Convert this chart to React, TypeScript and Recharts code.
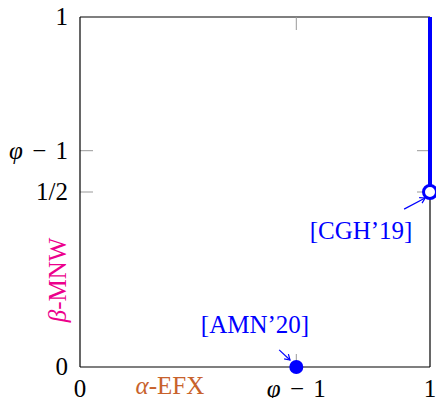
import React from 'react';
import { ComposedChart, XAxis, YAxis, Scatter, ReferenceLine, ReferenceDot } from 'recharts';

const PHI1 = 0.618;
const xTicks = [0, PHI1, 1];
const xTickLabels = ['0', 'φ − 1', '1'];
const yTicks = [0, 0.5, PHI1, 1];
const yTickLabels = ['0', '1/2', 'φ − 1', '1'];
const innerXTicks = [PHI1];
const innerYTicks = [0.5, PHI1];
const cghSegment = [{ x: 1, y: 0.5 }, { x: 1, y: 1 }];
const cghPoint = [{ x: 1, y: 0.5 }];
const amnPoint = [{ x: PHI1, y: 0 }];
const refLabels = [
  { text: '[AMN’20]', x: 0.5, y: 0.12 },
  { text: '[CGH’19]', x: 0.803, y: 0.389 },
];
const refArrows = [
  [{ x: 0.569, y: 0.049 }, { x: 0.6, y: 0.02 }],
  [{ x: 0.926, y: 0.451 }, { x: 0.986, y: 0.483 }],
];
const xAxisTitle = { text: 'α', rest: '-EFX', x: 0.257, y: 0 };
const yAxisTitle = { text: 'β', rest: '-MNW', x: 0, y: 0.249 };

const FONT = '"Liberation Serif", "DejaVu Serif", serif';
const FS = 25;
const TICK_LEN = 13 / 350;
const BLUE = '#0000ff';
const ORANGE = '#c8622c';
const MAGENTA = '#ec008c';

const renderLabel = (s: string) => {
  if (s.startsWith('φ')) {
    return [
      <tspan key="a" fontStyle="italic">φ</tspan>,
      <tspan key="b" dx={3}>{' −'}</tspan>,
      <tspan key="c" dx={3}>{' 1'}</tspan>,
    ];
  }
  return s;
};

const XTick = (p: any) => {
  const i = xTicks.indexOf(p.payload.value);
  return (
    <text x={p.x} y={p.y} dy={22} textAnchor="middle" fontFamily={FONT} fontSize={FS} fill="#000">
      {renderLabel(xTickLabels[i] ?? '')}
    </text>
  );
};

const YTick = (p: any) => {
  const i = yTicks.indexOf(p.payload.value);
  return (
    <text x={p.x} y={p.y} dx={-4} dy={8} textAnchor="end" fontFamily={FONT} fontSize={FS} fill="#000">
      {renderLabel(yTickLabels[i] ?? '')}
    </text>
  );
};

const arrowShape = (p: any) => {
  const { x1, y1, x2, y2 } = p;
  const a = Math.atan2(y2 - y1, x2 - x1);
  const h = 6;
  const s = 0.55;
  return (
    <g>
      <line x1={x1} y1={y1} x2={x2} y2={y2} stroke={BLUE} strokeWidth={1.2} />
      <polyline
        points={`${x2 - h * Math.cos(a - s)},${y2 - h * Math.sin(a - s)} ${x2},${y2} ${x2 - h * Math.cos(a + s)},${y2 - h * Math.sin(a + s)}`}
        fill="none"
        stroke={BLUE}
        strokeWidth={1.2}
      />
    </g>
  );
};

export default function App() {
  return (
    <div style={{ position: 'absolute', left: 0, top: 0, width: 436, height: 398 }}>
      <ComposedChart
        width={436}
        height={398}
        margin={{ top: 17, right: 6, bottom: 0, left: 0 }}
        style={{ fontFamily: FONT }}
      >
        <XAxis
          type="number"
          dataKey="x"
          domain={[0, 1]}
          ticks={xTicks}
          interval={0}
          height={31}
          tickLine={false}
          axisLine={{ stroke: '#000', strokeWidth: 1.2 }}
          tick={<XTick />}
        />
        <YAxis
          type="number"
          dataKey="y"
          domain={[0, 1]}
          ticks={yTicks}
          interval={0}
          width={80}
          tickLine={false}
          axisLine={{ stroke: '#000', strokeWidth: 1.2 }}
          tick={<YTick />}
        />
        <ReferenceLine y={1} stroke="#000" strokeWidth={1.2} ifOverflow="visible" />
        <ReferenceLine x={1} stroke="#000" strokeWidth={1.2} ifOverflow="visible" />
        {innerXTicks.map((t) => (
          <ReferenceLine key={'xb' + t} segment={[{ x: t, y: 0 }, { x: t, y: TICK_LEN }]} stroke="#999" strokeWidth={1} ifOverflow="visible" />
        ))}
        {innerXTicks.map((t) => (
          <ReferenceLine key={'xt' + t} segment={[{ x: t, y: 1 }, { x: t, y: 1 - TICK_LEN }]} stroke="#999" strokeWidth={1} ifOverflow="visible" />
        ))}
        {innerYTicks.map((t) => (
          <ReferenceLine key={'yl' + t} segment={[{ x: 0, y: t }, { x: TICK_LEN, y: t }]} stroke="#999" strokeWidth={1} ifOverflow="visible" />
        ))}
        {innerYTicks.map((t) => (
          <ReferenceLine key={'yr' + t} segment={[{ x: 1, y: t }, { x: 1 - TICK_LEN, y: t }]} stroke="#999" strokeWidth={1} ifOverflow="visible" />
        ))}
        <Scatter
          data={cghSegment}
          line={{ stroke: BLUE, strokeWidth: 4 }}
          lineType="joint"
          shape={() => <g />}
          isAnimationActive={false}
        />
        <Scatter
          data={cghPoint}
          shape={(p: any) => <circle cx={p.cx} cy={p.cy} r={6.5} fill="#fff" stroke={BLUE} strokeWidth={3} />}
          isAnimationActive={false}
        />
        <Scatter
          data={amnPoint}
          shape={(p: any) => <circle cx={p.cx} cy={p.cy} r={7} fill={BLUE} stroke="none" />}
          isAnimationActive={false}
        />
        {refArrows.map((seg, i) => (
          <ReferenceLine key={'ar' + i} segment={seg} shape={arrowShape} ifOverflow="visible" />
        ))}
        {refLabels.map((l) => (
          <ReferenceDot
            key={l.text}
            x={l.x}
            y={l.y}
            r={0}
            ifOverflow="visible"
            shape={(p: any) => (
              <text x={p.cx} y={p.cy} dy={8} textAnchor="middle" fontFamily={FONT} fontSize={FS} fill={BLUE}>
                {l.text}
              </text>
            )}
          />
        ))}
        <ReferenceDot
          x={xAxisTitle.x}
          y={xAxisTitle.y}
          r={0}
          ifOverflow="visible"
          shape={(p: any) => (
            <text x={p.cx} y={p.cy} dy={27} textAnchor="middle" fontFamily={FONT} fontSize={FS} fill={ORANGE}>
              <tspan fontStyle="italic">{xAxisTitle.text}</tspan>
              <tspan>{xAxisTitle.rest}</tspan>
            </text>
          )}
        />
        <ReferenceDot
          x={yAxisTitle.x}
          y={yAxisTitle.y}
          r={0}
          ifOverflow="visible"
          shape={(p: any) => (
            <text
              x={p.cx - 22}
              y={p.cy}
              dy={8}
              textAnchor="middle"
              fontFamily={FONT}
              fontSize={FS}
              fill={MAGENTA}
              transform={`rotate(-90 ${p.cx - 22} ${p.cy})`}
            >
              <tspan fontStyle="italic">{yAxisTitle.text}</tspan>
              <tspan>{yAxisTitle.rest}</tspan>
            </text>
          )}
        />
      </ComposedChart>
    </div>
  );
}
